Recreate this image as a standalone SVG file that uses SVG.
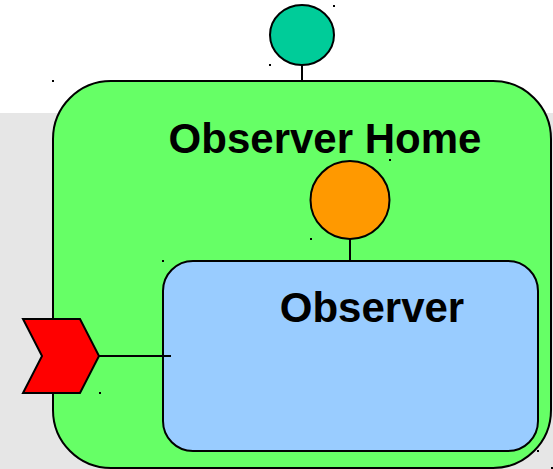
<svg xmlns="http://www.w3.org/2000/svg" width="553" height="469" viewBox="0 0 553 469">
<style>
.s{stroke:#000;stroke-width:2}
.t{font-family:"Liberation Sans",Arial,sans-serif;font-weight:bold;font-size:42px;fill:#000;text-anchor:middle}
.c{stroke:#000;stroke-width:2;fill:none}
.d{fill:#000}
</style>
<rect x="0" y="113" width="553" height="356" fill="#e6e6e6"/>
<g id="home">
<rect class="s" x="53" y="81" width="498" height="387" rx="58" ry="58" fill="#66ff66"/>
<text class="t" x="325" y="153">Observer Home</text>
</g>
<g id="observer">
<rect class="s" x="163" y="261" width="375" height="190" rx="30" ry="30" fill="#99ccff"/>
<text class="t" x="372" y="322">Observer</text>
</g>
<g id="connectors">
<line class="c" x1="302" y1="65" x2="302" y2="81"/>
<line class="c" x1="350" y1="239" x2="350" y2="261"/>
<line class="c" x1="99" y1="356" x2="171" y2="356"/>
</g>
<g id="facet">
<ellipse class="s" cx="302" cy="35" rx="32" ry="30" fill="#00cc99"/>
</g>
<g id="receptacle">
<ellipse class="s" cx="350" cy="200" rx="39.5" ry="39" fill="#ff9900"/>
</g>
<g id="event-sink">
<polygon class="s" points="23,319 80,319 99,356 80,393 23,393 42,356" fill="#ff0000"/>
</g>
<g id="handles">
<rect class="d" x="52" y="80" width="2" height="2"/>
<rect class="d" x="269" y="64" width="2" height="2"/>
<rect class="d" x="333" y="5" width="2" height="2"/>
<rect class="d" x="389" y="159" width="2" height="2"/>
<rect class="d" x="310" y="238" width="2" height="2"/>
<rect class="d" x="162" y="260" width="2" height="2"/>
<rect class="d" x="99" y="392" width="2" height="2"/>
<rect class="d" x="537" y="450" width="2" height="2"/>
<rect class="d" x="551" y="467" width="2" height="2"/>
</g>
</svg>
